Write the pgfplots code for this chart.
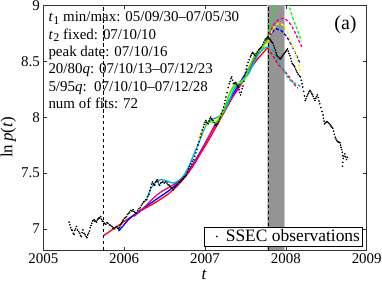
\documentclass[border=0pt]{standalone}
\usepackage{pgfplots}
\pgfplotsset{compat=1.18}
\usepackage{fontspec}
\setmainfont{Liberation Serif}
\begin{document}
\begin{tikzpicture}
\begin{axis}[
  scale only axis, width=323.4bp, height=244.5bp,
  xmin=2005, xmax=2009, ymin=6.81, ymax=9,
  xtick={2005,2006,2007,2008,2009}, ytick={7,7.5,8,8.5,9},
  /pgf/number format/1000 sep={},
  /pgf/number format/assume math mode=true,
  tick label style={font=\fontsize{15}{17}\selectfont},
  tick align=inside, major tick length=3.5bp,
  axis line style={black!80}, every tick/.style={black!80},
  xlabel={\textit{t}}, ylabel={ln\,\textit{p}(\textit{t})},
  label style={font=\fontsize{17}{19}\selectfont},
  xlabel style={at={(axis description cs:0.497,-0.1)}, anchor=center},
  ylabel style={at={(axis description cs:-0.108,0.46)}, anchor=center},
  legend style={at={(rel axis cs:0.9876,0.0163)}, anchor=south east,
    font=\fontsize{17.5}{19}\selectfont, draw=black, inner sep=0.5pt,
    cells={anchor=west}},
  legend image code/.code={\path[draw=none,fill=none] (0,-2pt) rectangle (19bp,2pt); \fill[black] (12bp,0) circle (0.65pt);},
]
% bands
\addplot[draw=none, fill=black!22, forget plot] coordinates {(2007.773,6.81)(2007.99,6.81)(2007.99,9)(2007.773,9)} -- cycle;
\addplot[draw=none, fill=black!42, forget plot] coordinates {(2007.781,6.81)(2007.975,6.81)(2007.975,9)(2007.781,9)} -- cycle;
% vertical dashed lines
\addplot[black, dash pattern=on 3.5pt off 2.5pt, line width=0.7pt, forget plot] coordinates {(2005.747,6.81)(2005.747,9)};
\addplot[black, dash pattern=on 3.5pt off 2.5pt, line width=0.7pt, forget plot] coordinates {(2007.781,6.81)(2007.781,9)};
% fits solid
\addplot[red, line width=1.3pt, smooth, forget plot] coordinates {(2005.747,6.94)(2005.85,6.99)(2005.95,7.04)(2006.05,7.09)(2006.15,7.135)(2006.25,7.18)(2006.35,7.22)(2006.45,7.265)(2006.55,7.315)(2006.65,7.38)(2006.75,7.46)(2006.85,7.56)(2006.95,7.68)(2007.05,7.80)(2007.15,7.93)(2007.25,8.06)(2007.35,8.19)(2007.45,8.31)(2007.55,8.42)(2007.65,8.52)(2007.773,8.62)};
\addplot[blue, line width=1.3pt, smooth, forget plot] coordinates {(2005.93,6.98)(2005.98,7.02)(2006.05,7.08)(2006.15,7.14)(2006.25,7.19)(2006.35,7.24)(2006.45,7.29)(2006.55,7.34)(2006.65,7.40)(2006.75,7.48)(2006.85,7.58)(2006.95,7.70)(2007.05,7.83)(2007.15,7.96)(2007.25,8.09)(2007.35,8.21)(2007.45,8.33)(2007.55,8.45)(2007.65,8.56)(2007.773,8.68)};
\addplot[magenta, line width=1.3pt, smooth, forget plot] coordinates {(2006.12,7.11)(2006.2,7.16)(2006.3,7.23)(2006.4,7.30)(2006.5,7.35)(2006.6,7.39)(2006.7,7.44)(2006.8,7.52)(2006.9,7.63)(2007.0,7.76)(2007.1,7.90)(2007.2,8.03)(2007.3,8.14)(2007.4,8.24)(2007.5,8.36)(2007.6,8.50)(2007.7,8.62)(2007.773,8.70)};
\addplot[cyan, line width=1.3pt, smooth, forget plot] coordinates {(2006.28,7.27)(2006.33,7.36)(2006.38,7.41)(2006.45,7.44)(2006.52,7.43)(2006.6,7.41)(2006.67,7.43)(2006.74,7.48)(2006.8,7.56)(2006.87,7.68)(2006.94,7.80)(2007.0,7.91)(2007.06,7.97)(2007.12,7.99)(2007.18,8.01)(2007.24,8.06)(2007.3,8.15)(2007.36,8.25)(2007.42,8.31)(2007.48,8.34)(2007.54,8.39)(2007.6,8.48)(2007.66,8.56)(2007.72,8.61)(2007.773,8.63)};
\addplot[yellow, line width=1.3pt, smooth, forget plot] coordinates {(2006.92,7.80)(2006.97,7.89)(2007.02,7.94)(2007.08,7.96)(2007.14,7.97)(2007.2,8.02)(2007.26,8.12)(2007.32,8.24)(2007.38,8.30)(2007.44,8.31)(2007.5,8.36)(2007.56,8.47)(2007.62,8.56)(2007.68,8.60)(2007.773,8.67)};
\addplot[green, line width=1.3pt, smooth, forget plot] coordinates {(2007.0,7.93)(2007.06,7.96)(2007.12,7.95)(2007.18,7.98)(2007.24,8.08)(2007.3,8.2)(2007.36,8.28)(2007.42,8.3)(2007.48,8.33)(2007.54,8.43)(2007.6,8.53)(2007.66,8.59)(2007.72,8.64)(2007.773,8.72)};
% fits dashed (extrapolation)
\addplot[red, line width=1.3pt, dash pattern=on 3pt off 2pt, smooth, forget plot] coordinates {(2007.773,8.62)(2007.84,8.55)(2007.91,8.47)(2008.0,8.40)(2008.06,8.34)(2008.12,8.28)(2008.15,8.26)};
\addplot[cyan, line width=1.3pt, dash pattern=on 3pt off 2pt, smooth, forget plot] coordinates {(2007.773,8.63)(2007.83,8.6)(2007.88,8.54)(2007.93,8.47)(2007.98,8.41)(2008.03,8.35)(2008.09,8.31)(2008.15,8.29)(2008.19,8.27)};
\addplot[blue, line width=1.3pt, dash pattern=on 3pt off 2pt, smooth, forget plot] coordinates {(2007.773,8.68)(2007.83,8.76)(2007.89,8.79)(2007.95,8.77)(2008.0,8.73)(2008.06,8.66)(2008.12,8.57)(2008.17,8.49)};
\addplot[yellow, line width=1.3pt, dash pattern=on 3pt off 2pt, smooth, forget plot] coordinates {(2007.773,8.67)(2007.82,8.76)(2007.87,8.82)(2007.92,8.84)(2007.97,8.82)(2008.02,8.76)(2008.07,8.66)(2008.12,8.56)(2008.16,8.47)(2008.18,8.41)};
\addplot[magenta, line width=1.3pt, dash pattern=on 3pt off 2pt, smooth, forget plot] coordinates {(2007.773,8.70)(2007.82,8.79)(2007.87,8.85)(2007.93,8.88)(2007.99,8.88)(2008.05,8.84)(2008.1,8.78)(2008.15,8.70)(2008.2,8.63)};
\addplot[green, line width=1.3pt, dash pattern=on 3pt off 2pt, smooth, forget plot] coordinates {(2007.773,8.72)(2007.81,8.84)(2007.85,8.96)(2007.9,9.06)(2007.96,9.09)(2008.01,9.05)(2008.05,8.97)(2008.1,8.86)(2008.15,8.77)(2008.19,8.68)};
% observations
\addplot[only marks, mark=*, mark size=0.6pt, black] table {
x y
2005.320 7.060
2005.330 7.035
2005.340 7.010
2005.350 6.990
2005.360 6.985
2005.370 6.960
2005.380 6.950
2005.390 6.985
2005.400 7.000
2005.410 7.020
2005.423 6.990
2005.437 6.975
2005.450 6.960
2005.460 6.940
2005.470 6.930
2005.480 6.965
2005.490 6.990
2005.503 6.960
2005.517 6.945
2005.530 6.930
2005.540 6.920
2005.550 6.945
2005.560 6.960
2005.570 6.980
2005.580 7.010
2005.590 7.030
2005.600 7.050
2005.610 7.070
2005.620 7.075
2005.630 7.080
2005.640 7.065
2005.650 7.070
2005.660 7.060
2005.670 7.080
2005.680 7.090
2005.690 7.100
2005.700 7.095
2005.710 7.110
2005.720 7.085
2005.730 7.070
2005.740 7.065
2005.750 7.045
2005.760 7.050
2005.773 7.040
2005.787 7.055
2005.800 7.050
2005.817 7.035
2005.833 7.030
2005.850 7.020
2005.860 7.005
2005.870 7.010
2005.883 7.000
2005.897 7.015
2005.910 7.020
2005.920 7.005
2005.930 7.000
2005.940 7.010
2005.950 7.025
2005.960 7.040
2005.970 7.055
2005.980 7.070
2005.990 7.080
2006.003 7.095
2006.017 7.100
2006.030 7.110
2006.043 7.130
2006.057 7.140
2006.070 7.150
2006.083 7.165
2006.097 7.160
2006.110 7.170
2006.123 7.155
2006.137 7.145
2006.150 7.140
2006.167 7.165
2006.183 7.180
2006.200 7.190
2006.213 7.210
2006.227 7.225
2006.240 7.240
2006.253 7.245
2006.267 7.260
2006.280 7.260
2006.293 7.290
2006.307 7.310
2006.320 7.340
2006.330 7.370
2006.340 7.400
2006.350 7.420
2006.360 7.405
2006.370 7.395
2006.380 7.390
2006.390 7.420
2006.400 7.430
2006.410 7.440
2006.420 7.420
2006.430 7.400
2006.440 7.390
2006.453 7.410
2006.467 7.415
2006.480 7.420
2006.497 7.410
2006.513 7.420
2006.530 7.410
2006.543 7.395
2006.557 7.390
2006.570 7.380
2006.583 7.370
2006.597 7.360
2006.610 7.350
2006.623 7.370
2006.637 7.380
2006.650 7.390
2006.663 7.400
2006.677 7.415
2006.690 7.420
2006.703 7.430
2006.717 7.445
2006.730 7.450
2006.743 7.465
2006.757 7.470
2006.770 7.480
2006.783 7.510
2006.797 7.535
2006.810 7.560
2006.827 7.580
2006.843 7.605
2006.860 7.620
2006.873 7.650
2006.887 7.680
2006.900 7.710
2006.913 7.750
2006.927 7.780
2006.940 7.820
2006.953 7.850
2006.967 7.885
2006.980 7.910
2006.990 7.935
2007.000 7.955
2007.010 7.970
2007.020 7.955
2007.030 7.945
2007.040 7.940
2007.050 7.965
2007.060 7.985
2007.070 8.000
2007.080 7.985
2007.090 7.975
2007.100 7.970
2007.113 7.950
2007.127 7.930
2007.140 7.920
2007.150 7.935
2007.160 7.940
2007.170 7.960
2007.180 7.985
2007.190 8.000
2007.203 8.030
2007.217 8.060
2007.230 8.090
2007.240 8.120
2007.250 8.150
2007.260 8.180
2007.273 8.220
2007.287 8.265
2007.300 8.300
2007.310 8.320
2007.320 8.345
2007.330 8.360
2007.340 8.330
2007.350 8.300
2007.360 8.305
2007.370 8.300
2007.380 8.310
2007.390 8.295
2007.400 8.280
2007.410 8.270
2007.420 8.245
2007.430 8.220
2007.440 8.200
2007.450 8.225
2007.460 8.255
2007.470 8.280
2007.480 8.320
2007.490 8.370
2007.500 8.400
2007.510 8.430
2007.520 8.460
2007.533 8.490
2007.547 8.515
2007.560 8.540
2007.570 8.555
2007.580 8.570
2007.590 8.580
2007.600 8.570
2007.610 8.560
2007.620 8.550
2007.633 8.570
2007.647 8.585
2007.660 8.600
2007.673 8.610
2007.687 8.620
2007.700 8.630
2007.713 8.650
2007.727 8.670
2007.740 8.690
2007.753 8.700
2007.767 8.710
2007.780 8.720
2007.790 8.710
2007.800 8.700
2007.810 8.690
2007.820 8.680
2007.830 8.670
2007.840 8.660
2007.850 8.640
2007.860 8.620
2007.870 8.600
2007.877 8.580
2007.883 8.565
2007.890 8.550
2007.903 8.540
2007.917 8.530
2007.930 8.520
2007.940 8.530
2007.950 8.540
2007.960 8.550
2007.970 8.560
2007.980 8.570
2007.990 8.580
2008.000 8.590
2008.010 8.600
2008.020 8.610
2008.030 8.590
2008.040 8.570
2008.050 8.550
2008.060 8.525
2008.070 8.500
2008.080 8.480
2008.090 8.470
2008.100 8.460
2008.110 8.450
2008.120 8.430
2008.130 8.415
2008.140 8.400
2008.153 8.385
2008.167 8.370
2008.180 8.360
2008.190 8.330
2008.200 8.300
2008.210 8.270
2008.220 8.230
2008.230 8.190
2008.240 8.150
2008.250 8.165
2008.260 8.185
2008.270 8.200
2008.280 8.215
2008.290 8.230
2008.300 8.240
2008.310 8.225
2008.320 8.210
2008.330 8.200
2008.340 8.185
2008.350 8.165
2008.360 8.150
2008.370 8.170
2008.380 8.185
2008.390 8.200
2008.400 8.175
2008.410 8.145
2008.420 8.120
2008.433 8.085
2008.447 8.050
2008.460 8.020
2008.467 7.990
2008.473 7.965
2008.480 7.940
2008.490 7.950
2008.500 7.955
2008.510 7.960
2008.523 7.950
2008.537 7.940
2008.550 7.930
2008.560 7.920
2008.570 7.910
2008.580 7.900
2008.590 7.875
2008.600 7.845
2008.610 7.820
2008.620 7.805
2008.630 7.790
2008.640 7.780
2008.650 7.778
2008.660 7.774
2008.670 7.770
2008.677 7.750
2008.683 7.730
2008.690 7.710
2008.697 7.685
2008.703 7.655
2008.710 7.630
2008.705 7.595
2008.700 7.560
2008.720 7.650
2008.730 7.670
2008.740 7.645
2008.750 7.620
2008.760 7.640
};
\addlegendentry{SSEC observations}
% annotations
\node[anchor=base west, inner sep=0, font=\fontsize{15}{17}\selectfont] at (rel axis cs:0.0155,0.9337) {\textit{t}\kern0.5pt\raisebox{-0.35ex}{\fontsize{12}{12}\selectfont 1} min/max: 05/09/30--07/05/30};
\node[anchor=base west, inner sep=0, font=\fontsize{15}{17}\selectfont] at (rel axis cs:0.0155,0.8626) {\textit{t}\kern0.5pt\raisebox{-0.35ex}{\fontsize{12}{12}\selectfont 2} fixed: 07/10/10};
\node[anchor=base west, inner sep=0, font=\fontsize{15}{17}\selectfont] at (rel axis cs:0.0155,0.7915) {peak date: 07/10/16};
\node[anchor=base west, inner sep=0, font=\fontsize{15}{17}\selectfont] at (rel axis cs:0.0155,0.7203) {20/80\textit{q}: 07/10/13--07/12/23};
\node[anchor=base west, inner sep=0, font=\fontsize{15}{17}\selectfont] at (rel axis cs:0.0155,0.6492) {5/95\textit{q}:\ \ 07/10/10--07/12/28};
\node[anchor=base west, inner sep=0, font=\fontsize{15}{17}\selectfont] at (rel axis cs:0.0155,0.5780) {num of fits: 72};
\node[anchor=base west, inner sep=0, font=\fontsize{20}{22}\selectfont] at (rel axis cs:0.8998,0.9024) {(a)};
\end{axis}
\pgfresetboundingbox
\useasboundingbox ([xshift=-43.3bp,yshift=-33bp]current axis.south west) rectangle ([xshift=15.3bp,yshift=5.5bp]current axis.north east);
\end{tikzpicture}
\end{document}
